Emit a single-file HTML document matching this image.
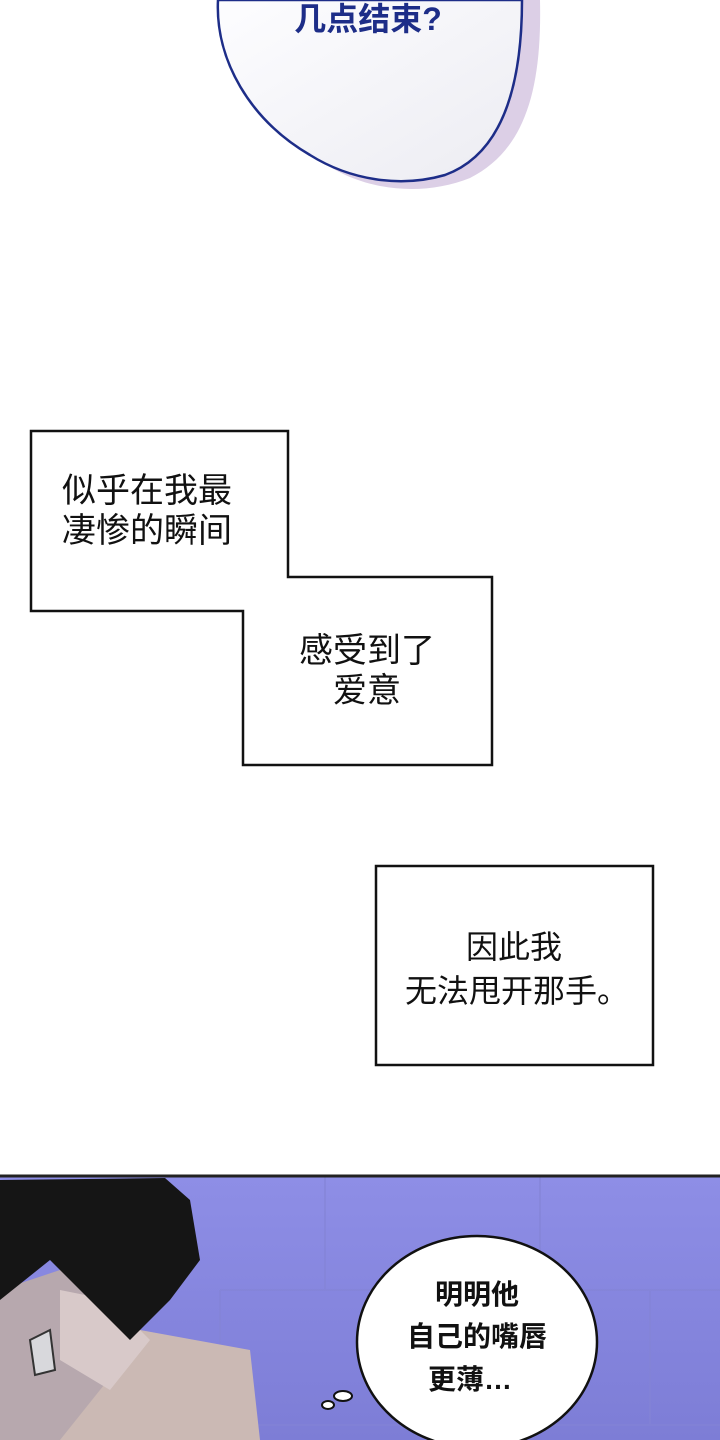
<!DOCTYPE html>
<html><head><meta charset="utf-8"><style>
body{margin:0;background:#fff}
svg{display:block}
text{font-family:"Liberation Sans","Noto Sans CJK SC",sans-serif}
</style></head><body>
<svg width="720" height="1440" viewBox="0 0 720 1440">
<defs>
<linearGradient id="bg" x1="0" y1="0" x2="0" y2="1"><stop offset="0" stop-color="#8e8ee6"/><stop offset="1" stop-color="#7d7dd6"/></linearGradient>
<linearGradient id="bub" x1="0" y1="0" x2="1" y2="1"><stop offset="0" stop-color="#fdfdff"/><stop offset="1" stop-color="#ececf2"/></linearGradient>
</defs>
<rect width="720" height="1440" fill="#fff"/>
<path d="M232,0 C225,60 260,120 320,160 C360,190 420,198 470,178 C525,150 542,90 540,0 Z" fill="#dccfe6"/>
<path d="M218,0 C215,60 250,120 310,155 C350,180 400,188 445,175 C500,155 522,90 522,0 Z" fill="url(#bub)" stroke="#1d2d88" stroke-width="2.5"/>
<text x="368" y="30" font-size="32" font-weight="bold" fill="#1d2d88" text-anchor="middle">几点结束?</text>
<path d="M31,431 H288 V577 H492 V765 H243 V611 H31 Z" fill="#fff" stroke="#111" stroke-width="2.5"/>
<text x="147" y="502" font-size="34" fill="#111" text-anchor="middle">似乎在我最</text>
<text x="147" y="542" font-size="34" fill="#111" text-anchor="middle">凄惨的瞬间</text>
<text x="367" y="662" font-size="34" fill="#111" text-anchor="middle">感受到了</text>
<text x="367" y="702" font-size="34" fill="#111" text-anchor="middle">爱意</text>
<rect x="376" y="866" width="277" height="199" fill="#fff" stroke="#111" stroke-width="2.5"/>
<text x="514" y="958" font-size="32" fill="#111" text-anchor="middle">因此我</text>
<text x="517" y="1002" font-size="32" fill="#111" text-anchor="middle">无法甩开那手。</text>
<rect x="0" y="1175" width="720" height="265" fill="url(#bg)"/>
<g stroke="#8484d6" stroke-width="2" opacity="0.6">
<line x1="220" y1="1290" x2="720" y2="1290"/><line x1="220" y1="1425" x2="720" y2="1425"/>
<line x1="325" y1="1175" x2="325" y2="1290"/><line x1="540" y1="1175" x2="540" y2="1290"/>
<line x1="220" y1="1290" x2="220" y2="1440"/><line x1="650" y1="1290" x2="650" y2="1425"/>
</g>
<path d="M0,1440 L0,1330 L70,1380 L140,1330 L250,1350 L260,1440 Z" fill="#cbb9b4"/>
<path d="M0,1290 L60,1270 L120,1300 L140,1340 L100,1390 L60,1440 L0,1440 Z" fill="#b7a8ae"/>
<path d="M60,1290 L110,1300 L150,1340 L110,1390 L60,1360 Z" fill="#d8c9c9"/>
<path d="M0,1180 L165,1178 L190,1200 L200,1260 L170,1300 L130,1340 L100,1310 L50,1260 L0,1300 Z" fill="#151515"/>
<path d="M30,1340 L50,1330 L55,1370 L35,1375 Z" fill="#d8d8dc" stroke="#333" stroke-width="2"/>
<line x1="0" y1="1176" x2="720" y2="1176" stroke="#222" stroke-width="3"/>
<ellipse cx="477" cy="1342" rx="120" ry="106" fill="#fff" stroke="#111" stroke-width="2.5"/>
<ellipse cx="343" cy="1396" rx="9" ry="5" fill="#fff" stroke="#111" stroke-width="2"/>
<ellipse cx="328" cy="1405" rx="6" ry="4" fill="#fff" stroke="#111" stroke-width="2"/>
<text x="477" y="1304" font-size="28" font-weight="bold" fill="#111" text-anchor="middle">明明他</text>
<text x="477" y="1346" font-size="28" font-weight="bold" fill="#111" text-anchor="middle">自己的嘴唇</text>
<text x="470" y="1389" font-size="28" font-weight="bold" fill="#111" text-anchor="middle">更薄…</text>
</svg>
</body></html>
